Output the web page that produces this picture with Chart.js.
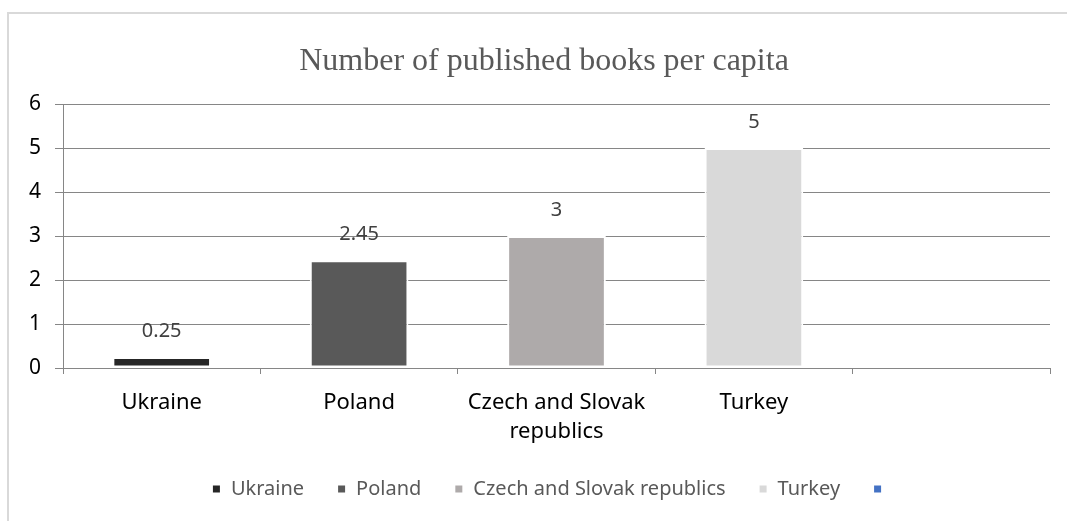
<!DOCTYPE html>
<html>
<head>
<meta charset="utf-8">
<script src="https://cdn.jsdelivr.net/npm/chart.js@4"></script>
<style>
  html, body { margin: 0; padding: 0; background: #fff; overflow: hidden; }
  #wrap { position: relative; width: 1067px; height: 521px; overflow: hidden; }
  #frame { position: absolute; left: 7px; top: 12px; width: 1100px; height: 600px;
           border-left: 2px solid #d9d9d9; border-top: 2px solid #d9d9d9; pointer-events: none; }
  canvas { position: absolute; left: 0; top: 0; }
</style>
</head>
<body>
<div id="wrap">
  <canvas id="chart" width="1067" height="521"></canvas>
  <div id="frame"></div>
</div>
<script>
// categories on the x axis (last slot is empty)
const categories = ['Ukraine', 'Poland', ['Czech and Slovak', 'republics'], 'Turkey', ''];
// one series per country, each holding only its own value
const seriesNames = ['Ukraine', 'Poland', 'Czech and Slovak republics', 'Turkey', ''];
const seriesValues = [0.25, 2.45, 3, 5, null];
const seriesColors = ['#262626', '#595959', '#aeaaaa', '#d9d9d9', '#4472c4'];
const yTicks = [0, 1, 2, 3, 4, 5, 6];

const AXIS_FONT = 'Noto Sans';

const datasets = seriesNames.map((name, i) => ({
  label: name,
  data: categories.map((c, j) => (j === i ? seriesValues[i] : null)),
  backgroundColor: seriesColors[i],
  borderColor: '#ffffff',
  borderWidth: 2,
  borderSkipped: false
}));

// value labels above each bar
const valueLabels = {
  id: 'valueLabels',
  afterDatasetsDraw(chart) {
    const ctx = chart.ctx;
    ctx.save();
    ctx.font = '20px "' + AXIS_FONT + '"';
    ctx.fillStyle = '#404040';
    ctx.textAlign = 'center';
    ctx.textBaseline = 'middle';
    chart.data.datasets.forEach((ds, i) => {
      const meta = chart.getDatasetMeta(i);
      meta.data.forEach((bar, j) => {
        const v = ds.data[j];
        if (v === null || v === undefined) return;
        ctx.fillText(String(v), bar.x, bar.y - 26);
      });
    });
    ctx.restore();
  }
};

// nudge title and legend boxes sideways, the plot area stays put
const boxNudge = {
  id: 'boxNudge',
  afterLayout(chart) {
    const move = (box, dx) => { if (box) { box.left += dx; box.right += dx; } };
    move(chart.titleBlock, 19);
    move(chart.legend, 27);
  }
};

new Chart(document.getElementById('chart'), {
  type: 'bar',
  data: { labels: categories, datasets },
  options: {
    responsive: false,
    animation: false,
    layout: { padding: { left: 0, right: 17, top: 0, bottom: 12 } },
    datasets: { bar: { skipNull: true, categoryPercentage: 1, barPercentage: 0.5, grouped: true } },
    plugins: {
      tooltip: { enabled: false },
      title: {
        display: true,
        text: 'Number of published books per capita',
        color: '#595959',
        font: { family: 'Liberation Serif', size: 32, weight: 'normal' },
        padding: { top: 42, bottom: 23.6 }
      },
      legend: {
        position: 'bottom',
        labels: {
          color: '#595959',
          font: { family: AXIS_FONT, size: 20 },
          boxWidth: 9,
          boxHeight: 9,
          padding: 33
        }
      }
    },
    scales: {
      x: {
        afterFit: s => { s.height = 78; },
        grid: { offset: true, drawOnChartArea: false, drawTicks: true, tickLength: 6, color: '#868686' },
        border: { color: '#868686' },
        ticks: { color: '#000', font: { family: AXIS_FONT, size: 22, lineHeight: 1.33 }, padding: 14, maxRotation: 0, autoSkip: false }
      },
      y: {
        min: 0,
        max: 6,
        afterFit: s => { s.width = 63; },
        afterBuildTicks: s => { s.ticks = yTicks.map(v => ({ value: v })); },
        grid: { color: '#868686', tickLength: 8 },
        border: { color: '#868686' },
        ticks: { color: '#000', font: { family: AXIS_FONT, size: 21 }, padding: 14 }
      }
    }
  },
  plugins: [valueLabels, boxNudge]
});
</script>
</body>
</html>
